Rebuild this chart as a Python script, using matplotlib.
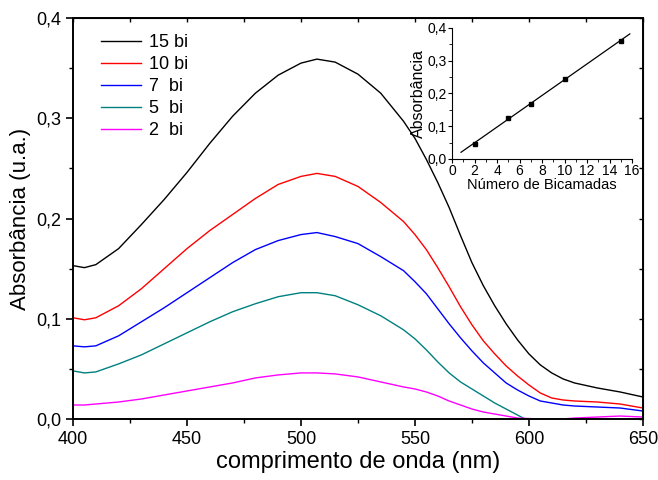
import numpy as np
import matplotlib
matplotlib.use("Agg")
import matplotlib.pyplot as plt
from matplotlib.ticker import MultipleLocator, FuncFormatter, NullFormatter

plt.rcParams['font.family'] = ['Liberation Sans', 'DejaVu Sans']

# wavelengths (nm)
wl = [400, 405, 410, 420, 430, 440, 450, 460, 470, 480, 490, 500, 507, 515,
      525, 535, 545, 550, 555, 560, 565, 570, 575, 580, 585, 590, 595, 600,
      605, 610, 615, 620, 630, 640, 650]

bi15 = [0.153, 0.151, 0.154, 0.170, 0.194, 0.219, 0.246, 0.275, 0.302, 0.325,
        0.343, 0.355, 0.359, 0.356, 0.344, 0.325, 0.297, 0.280, 0.259, 0.236,
        0.211, 0.183, 0.156, 0.133, 0.113, 0.095, 0.079, 0.065, 0.054, 0.046,
        0.040, 0.036, 0.031, 0.027, 0.022]
bi10 = [0.101, 0.099, 0.101, 0.113, 0.130, 0.150, 0.170, 0.188, 0.204, 0.220,
        0.234, 0.242, 0.245, 0.242, 0.232, 0.216, 0.197, 0.184, 0.169, 0.151,
        0.132, 0.112, 0.094, 0.078, 0.065, 0.053, 0.043, 0.034, 0.026, 0.021,
        0.019, 0.018, 0.017, 0.015, 0.011]
bi7 = [0.073, 0.072, 0.073, 0.083, 0.097, 0.111, 0.126, 0.141, 0.156, 0.169,
       0.178, 0.184, 0.186, 0.182, 0.175, 0.162, 0.148, 0.137, 0.125, 0.110,
       0.095, 0.081, 0.068, 0.056, 0.046, 0.036, 0.029, 0.023, 0.018, 0.016,
       0.014, 0.013, 0.012, 0.011, 0.008]
bi5 = [0.048, 0.046, 0.047, 0.055, 0.064, 0.075, 0.086, 0.097, 0.107, 0.115,
       0.122, 0.126, 0.126, 0.123, 0.114, 0.103, 0.089, 0.080, 0.069, 0.057,
       0.046, 0.037, 0.030, 0.023, 0.016, 0.010, 0.004, -0.002, np.nan, np.nan,
       np.nan, np.nan, np.nan, np.nan, np.nan]
bi2 = [0.014, 0.014, 0.015, 0.017, 0.020, 0.024, 0.028, 0.032, 0.036, 0.041,
       0.044, 0.046, 0.046, 0.045, 0.042, 0.037, 0.032, 0.030, 0.027, 0.023,
       0.018, 0.014, 0.010, 0.007, 0.005, 0.003, 0.001, 0.0005, 0.000, 0.000,
       0.000, 0.001, 0.002, 0.003, 0.002]

series = [bi15, bi10, bi7, bi5, bi2]
labels = ['15 bi', '10 bi', '7  bi', '5  bi', '2  bi']
colors = ['black', '#ff0000', '#0000ff', '#008080', '#ff00ff']

# inset: absorbance at peak vs number of bilayers
n_bi = [2, 5, 7, 10, 15]
abs_peak = [0.046, 0.125, 0.168, 0.245, 0.360]

comma = FuncFormatter(lambda v, p: f"{v:.1f}".replace('.', ','))

fig = plt.figure(figsize=(6.58, 4.8), dpi=100)
ax = fig.add_axes([0.111, 0.127, 0.866, 0.8355])

for y, lab, c in zip(series, labels, colors):
    ax.plot(wl, y, color=c, lw=1.0, label=lab)

ax.set_xlim(400, 650)
ax.set_ylim(0, 0.4)
ax.xaxis.set_major_locator(MultipleLocator(50))
ax.xaxis.set_minor_locator(MultipleLocator(25))
ax.yaxis.set_major_locator(MultipleLocator(0.1))
ax.yaxis.set_minor_locator(MultipleLocator(0.05))
ax.yaxis.set_major_formatter(comma)
ax.tick_params(which='major', direction='out', length=5, width=1.2, labelsize=13)
ax.tick_params(which='minor', direction='out', length=3, width=1.0)
for s in ax.spines.values():
    s.set_linewidth(1.4)
ax.set_xlabel('comprimento de onda (nm)', fontsize=17, labelpad=2)
ax.set_ylabel('Absorbância (u.a.)', fontsize=16, labelpad=4)

# opposite axes with small inward ticks, no labels
top = ax.secondary_xaxis('top')
top.xaxis.set_major_locator(MultipleLocator(25))
top.xaxis.set_major_formatter(NullFormatter())
top.tick_params(direction='in', length=3, width=1.0)
right = ax.secondary_yaxis('right')
right.yaxis.set_major_locator(MultipleLocator(0.05))
right.yaxis.set_major_formatter(NullFormatter())
right.tick_params(direction='in', length=3, width=1.0)

ax.legend(loc='upper left', bbox_to_anchor=(0.02, 1.0), frameon=False,
          fontsize=13, handlelength=2.25, handletextpad=0.45, labelspacing=0.28)

ins = fig.add_axes([0.687, 0.669, 0.2736, 0.273])
ins.plot(n_bi, abs_peak, 's', color='black', ms=3)
k, b = np.polyfit(n_bi, abs_peak, 1)
xf = np.array([0.8, 15.8])
ins.plot(xf, k * xf + b, color='black', lw=0.9)
ins.set_xlim(0, 16)
ins.set_ylim(0, 0.4)
ins.xaxis.set_major_locator(MultipleLocator(2))
ins.xaxis.set_minor_locator(MultipleLocator(1))
ins.yaxis.set_major_locator(MultipleLocator(0.1))
ins.yaxis.set_minor_locator(MultipleLocator(0.05))
ins.yaxis.set_major_formatter(comma)
ins.spines['top'].set_visible(False)
ins.spines['right'].set_visible(False)
ins.tick_params(which='major', direction='out', length=3, labelsize=10, pad=1)
ins.tick_params(which='minor', direction='out', length=2)
ins.set_xlabel('Número de Bicamadas', fontsize=10.5, labelpad=0)
ins.set_ylabel('Absorbância', fontsize=11.5, labelpad=1)
ins.patch.set_alpha(0)

fig.savefig('out.png', dpi=100)
